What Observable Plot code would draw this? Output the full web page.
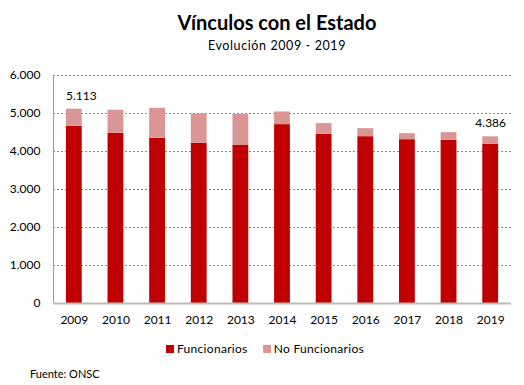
<!DOCTYPE html>
<html>
<head>
<meta charset="utf-8">
<script src="https://cdn.jsdelivr.net/npm/d3@7"></script>
<script src="https://cdn.jsdelivr.net/npm/@observablehq/plot@0.6"></script>
<style>
  body { margin:0; background:#fff; font-family: Lato, "Open Sans", sans-serif; color:#000; }
  #wrap { position:relative; width:524px; height:385px; overflow:hidden; }
  .abs { position:absolute; white-space:nowrap; }
  #title { left:30px; width:494px; top:10px; text-align:center; font-size:20px; font-weight:bold; }
  #subtitle { left:30px; width:494px; top:38px; text-align:center; font-size:12.5px; letter-spacing:0.6px; }
  #chart { left:0; top:60px; }
  #legend { left:3px; width:524px; top:341px; display:flex; justify-content:center; font-size:12px; letter-spacing:0.3px; }
  .item { display:flex; align-items:center; margin:0 7.5px; }
  .sw { width:8px; height:8px; margin-right:3px; }
  #caption { left:30px; top:367px; font-size:11px; letter-spacing:0px; }
</style>
</head>
<body>
<div id="wrap">
  <div id="title" class="abs"></div>
  <div id="subtitle" class="abs"></div>
  <div id="chart" class="abs"></div>
  <div id="legend" class="abs"></div>
  <div id="caption" class="abs"></div>
</div>
<script>
const titleText = "Vínculos con el Estado";
const subtitleText = "Evolución 2009 - 2019";
const captionText = "Fuente: ONSC";
const years = ["2009","2010","2011","2012","2013","2014","2015","2016","2017","2018","2019"];
const funcionarios =    [4662, 4478, 4346, 4214, 4169, 4707, 4451, 4390, 4311, 4293, 4195];
const noFuncionarios =  [ 451,  607,  791,  773,  810,  333,  282,  211,  159,  203,  191];
const seriesNames = ["Funcionarios", "No Funcionarios"];
const seriesColors = ["#C00000", "#D99694"];
const yTicks = [0, 1000, 2000, 3000, 4000, 5000, 6000];
const labeledYears = ["2009", "2019"];

const locale = d3.formatLocale({decimal: ",", thousands: ".", grouping: [3], currency: ["", ""]});
const fmt = locale.format(",d");

document.getElementById("title").textContent = titleText;
document.getElementById("subtitle").textContent = subtitleText;
document.getElementById("caption").textContent = captionText;

const rows = [];
years.forEach((y, i) => {
  rows.push({year: y, series: seriesNames[0], value: funcionarios[i]});
  rows.push({year: y, series: seriesNames[1], value: noFuncionarios[i]});
});
const totals = years.map((y, i) => ({year: y, total: funcionarios[i] + noFuncionarios[i]}));
const labelsFirst = totals.filter(d => d.year === labeledYears[0]);
const labelsLast = totals.filter(d => d.year === labeledYears[1]);

const chart = Plot.plot({
  width: 524,
  height: 280,
  marginTop: 15,
  marginBottom: 37,
  marginLeft: 53,
  marginRight: 13,
  style: {fontFamily: "Lato, 'Open Sans', sans-serif", fontSize: "12px", color: "#000", background: "transparent"},
  x: {domain: years, paddingInner: 0.62, paddingOuter: 0.31, round: false, label: null, tickSize: 0, tickPadding: 12},
  y: {domain: [0, 6000], ticks: yTicks, label: null, tickSize: 0, tickPadding: 13, tickFormat: fmt},
  color: {domain: seriesNames, range: seriesColors},
  marks: [
    Plot.gridY(yTicks.slice(1), {stroke: "#888", strokeOpacity: 1, strokeDasharray: "2,2", strokeWidth: 1}),
    Plot.barY(rows, Plot.stackY({x: "year", y: "value", fill: "series", order: seriesNames, inset: 0})),
    Plot.frame({anchor: "left", stroke: "#999"}),
    Plot.ruleY([0], {stroke: "#bbb", strokeWidth: 2}),
    Plot.text(labelsFirst, {x: "year", y: "total", text: d => fmt(d.total), dy: -13, dx: 7, fontSize: 12, fill: "#000"}),
    Plot.text(labelsLast, {x: "year", y: "total", text: d => fmt(d.total), dy: -14, fontSize: 12, fill: "#000"})
  ]
});
document.getElementById("chart").appendChild(chart);

const legend = document.getElementById("legend");
seriesNames.forEach((name, i) => {
  const item = document.createElement("div");
  item.className = "item";
  const sw = document.createElement("div");
  sw.className = "sw";
  sw.style.background = seriesColors[i];
  const t = document.createElement("span");
  t.textContent = name;
  item.appendChild(sw); item.appendChild(t);
  legend.appendChild(item);
});
</script>
</body>
</html>
